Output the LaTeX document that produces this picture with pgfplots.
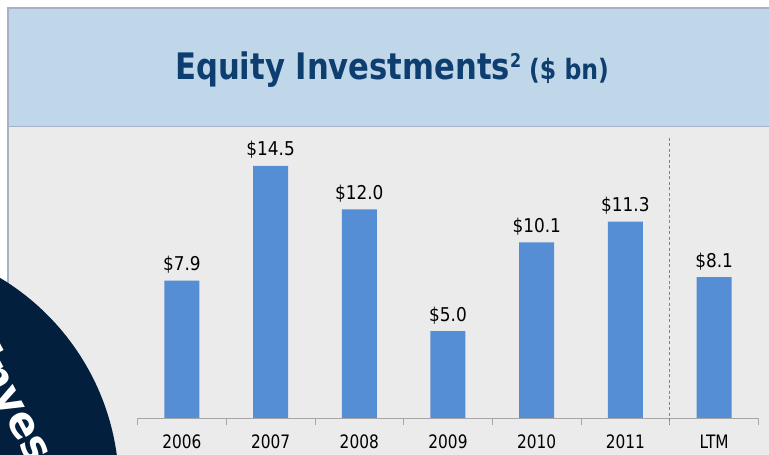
\documentclass[border=0pt]{standalone}
\usepackage{pgfplots}
\pgfplotsset{compat=1.18}
\usepackage{fontspec}
\setmainfont{DejaVu Sans}
\newfontfamily\lblfont[FakeStretch=0.89]{DejaVu Sans}
\newfontfamily\tickfont[FakeStretch=0.83]{DejaVu Sans}
\newfontfamily\titlefont[FakeStretch=0.84]{DejaVu Sans}
\newfontfamily\circfont{DejaVu Sans}
\definecolor{bgGray}{HTML}{EBEBEB}
\definecolor{bandBlue}{HTML}{C0D7E9}
\definecolor{titleBlue}{HTML}{0E3D6F}
\definecolor{barBlue}{HTML}{558ED5}
\definecolor{navyC}{HTML}{021F3D}
\definecolor{axisGray}{HTML}{A6A6A6}
\definecolor{dashC}{HTML}{4F8BDB}
\definecolor{borderC}{HTML}{A7B2C8}
\begin{document}
\begin{tikzpicture}
\useasboundingbox (0pt,0pt) rectangle (769pt,455pt);
\clip (0pt,0pt) rectangle (769pt,455pt);
\fill[white] (0pt,0pt) rectangle (769pt,455pt);
\fill[bgGray] (8pt,0pt) rectangle (769pt,328pt);
\fill[bandBlue] (8pt,328pt) rectangle (769pt,447pt);
\draw[borderC, line width=1.5pt] (8pt,0pt) -- (8pt,447pt) -- (769pt,447pt);
\draw[borderC, line width=1pt] (8pt,328pt) -- (769pt,328pt);
\node[anchor=base, text=titleBlue, inner sep=0pt] at (392pt,375pt)
  {\titlefont\bfseries\fontsize{36.5}{40}\selectfont Equity Investments\raisebox{12pt}{\fontsize{19}{19}\selectfont 2}\hspace{8pt}\fontsize{28}{30}\selectfont (\$ bn)};
\begin{axis}[
  at={(137.5pt,37pt)}, anchor=south west,
  scale only axis, width=621pt, height=280pt,
  xmin=-0.5, xmax=6.5, ymin=0, ymax=16.11,
  axis y line=none, axis x line*=bottom,
  axis line style={draw=axisGray, line width=0.8pt},
  xtick={0,...,6},
  xticklabels={2006,2007,2008,2009,2010,2011,LTM},
  major tick length=0pt,
  minor xtick={-0.5,0.5,...,6.5},
  minor tick length=7pt,
  tick align=outside,
  minor x tick style={draw=axisGray, line width=0.8pt},
  xticklabel style={font=\tickfont\fontsize{18.5}{18.5}\selectfont, inner sep=0pt, yshift=-17pt, text=black},
  ytick=\empty,
  clip=false,
  ybar, bar width=35pt,
  nodes near coords={\$\pgfmathprintnumber[fixed,fixed zerofill,precision=1,assume math mode=true]{\pgfplotspointmeta}},
  every node near coord/.append style={font=\lblfont\fontsize{19}{19}\selectfont, inner sep=0pt, yshift=7pt, text=black},
]
\addplot[fill=barBlue, draw=none] coordinates {(0,7.9) (1,14.5) (2,12.0) (3,5.0) (4,10.1) (5,11.3) (6,8.1)};
\draw[dashC, line width=0.9pt, dash pattern=on 3pt off 2.5pt] (axis cs:5.5,16.11) -- (axis cs:5.5,-0.35);
\end{axis}
\fill[navyC] (-126pt,-33pt) circle (245pt);
\begin{scope}
\clip (-126pt,-33pt) circle (245pt);
\node[rotate=-62, text=white, inner sep=0pt] at (14pt,52pt) {\circfont\bfseries\fontsize{42}{42}\selectfont Inves};
\end{scope}
\end{tikzpicture}
\end{document}
